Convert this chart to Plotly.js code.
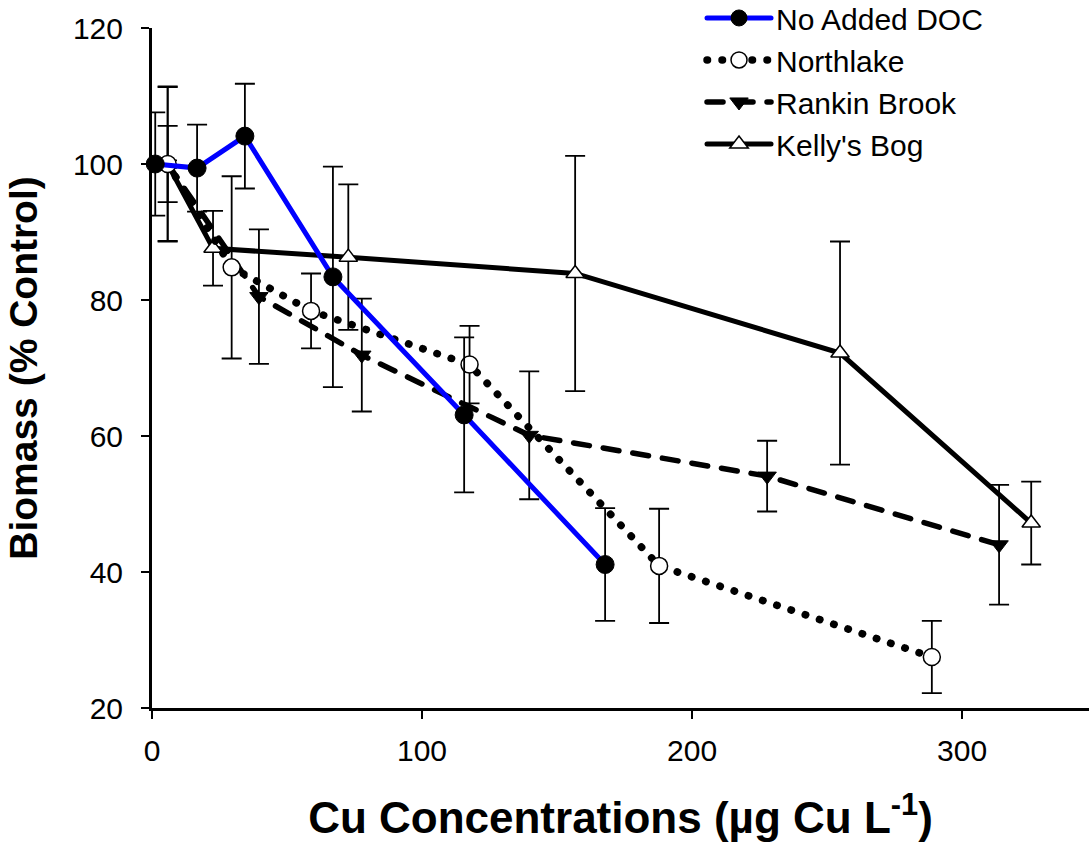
<!DOCTYPE html>
<html>
<head>
<meta charset="utf-8">
<script src="https://cdn.plot.ly/plotly-3.0.1.min.js"></script>
<style>
  html, body { margin: 0; padding: 0; background: #fff; }
  #chart { width: 1089px; height: 850px; }
  .scatterlayer .js-line, .legend .js-line { stroke-linecap: round; }
</style>
</head>
<body>
<div id="chart"></div>
<script>
// ---- data ----
const seriesNames = ["No Added DOC", "Northlake", "Rankin Brook", "Kelly's Bog"];

const xNoDOC = [1.2, 16.7, 34.4, 67.0, 115.6, 167.8];
const yNoDOC = [100.0, 99.4, 104.1, 83.4, 63.1, 41.1];
const eNoDOC = [7.6, 6.4, 7.7, 16.2, 11.4, 8.3];

const xNorthlake = [5.8, 29.5, 58.9, 117.6, 187.8, 288.8];
const yNorthlake = [100.0, 84.8, 78.4, 70.5, 40.9, 27.5];
const eNorthlake = [11.3, 13.4, 5.5, 5.7, 8.4, 5.3];

const xRankin = [5.8, 39.6, 77.7, 139.7, 227.8, 313.7];
const yRankin = [100.0, 80.5, 71.9, 60.1, 54.1, 44.0];
const eRankin = [5.6, 9.9, 8.3, 9.4, 5.2, 8.8];

const xKelly = [5.8, 22.6, 72.7, 156.7, 254.8, 325.6];
const yKelly = [100.0, 87.6, 86.3, 83.9, 72.2, 47.2];
const eKelly = [11.4, 5.5, 10.7, 17.3, 16.4, 6.1];

const xTicks = [0, 100, 200, 300];
const yTicks = [20, 40, 60, 80, 100, 120];

// ---- chart ----
const FONT = "Liberation Sans, Arial, Helvetica, sans-serif";
function err(arr) {
  return { type: "data", array: arr, visible: true, color: "#000", thickness: 1.8, width: 10 };
}

const traces = [
  {
    name: seriesNames[3], x: xKelly, y: yKelly, error_y: err(eKelly),
    mode: "lines+markers", legendrank: 4, cliponaxis: false,
    line: { color: "#000", width: 5 },
    marker: { symbol: "triangle-up", size: 16, color: "#fff", line: { color: "#000", width: 1.5 } }
  },
  {
    name: seriesNames[2], x: xRankin, y: yRankin, error_y: err(eRankin),
    mode: "lines+markers", legendrank: 3, cliponaxis: false,
    line: { color: "#000", width: 5.5, dash: "16px,14px" },
    marker: { symbol: "triangle-down", size: 16, color: "#000", line: { color: "#000", width: 1 } }
  },
  {
    name: seriesNames[1], x: xNorthlake, y: yNorthlake, error_y: err(eNorthlake),
    mode: "lines+markers", legendrank: 2, cliponaxis: false,
    line: { color: "#000", width: 7.5, dash: "0.5px,14.5px" },
    marker: { symbol: "circle", size: 17, color: "#fff", line: { color: "#000", width: 1.5 } }
  },
  {
    name: seriesNames[0], x: xNoDOC, y: yNoDOC, error_y: err(eNoDOC),
    mode: "lines+markers", legendrank: 1, cliponaxis: false,
    line: { color: "#0000ff", width: 5 },
    marker: { symbol: "circle", size: 18, color: "#000", line: { color: "#000", width: 1 } }
  }
];

const layout = {
  width: 1089, height: 850,
  paper_bgcolor: "#fff", plot_bgcolor: "#fff",
  margin: { l: 152, r: 0, t: 28, b: 142, pad: 0, autoexpand: false },
  font: { family: FONT, color: "#000" },
  showlegend: true,
  legend: {
    x: 0.587, xanchor: "left", y: 1.053, yanchor: "top",
    font: { family: FONT, size: 30, color: "#000" },
    itemwidth: 64, bgcolor: "rgba(0,0,0,0)", borderwidth: 0,
    traceorder: "normal"
  },
  xaxis: {
    range: [0, 347], tickvals: xTicks, ticktext: xTicks.map(String),
    showgrid: false, zeroline: false,
    showline: true, linecolor: "#000", linewidth: 3,
    ticks: "outside", ticklen: 8, tickwidth: 1.5, tickcolor: "#000",
    tickfont: { family: FONT, size: 30 }, ticklabelstandoff: 6,
    title: { text: "Cu Concentrations (µg Cu L<sup>-1</sup>)", font: { family: FONT, size: 44, weight: "bold" }, standoff: 37 },
    automargin: false
  },
  yaxis: {
    range: [20, 120], tickvals: yTicks, ticktext: yTicks.map(String),
    showgrid: false, zeroline: false,
    showline: true, linecolor: "#000", linewidth: 3,
    ticks: "outside", ticklen: 8, tickwidth: 1.5, tickcolor: "#000",
    tickfont: { family: FONT, size: 30 }, ticklabelstandoff: 12,
    title: { text: "Biomass (% Control)", font: { family: FONT, size: 39, weight: "bold" }, standoff: 24 },
    automargin: false
  }
};

Plotly.newPlot("chart", traces, layout, { displayModeBar: false, staticPlot: true });
</script>
</body>
</html>
